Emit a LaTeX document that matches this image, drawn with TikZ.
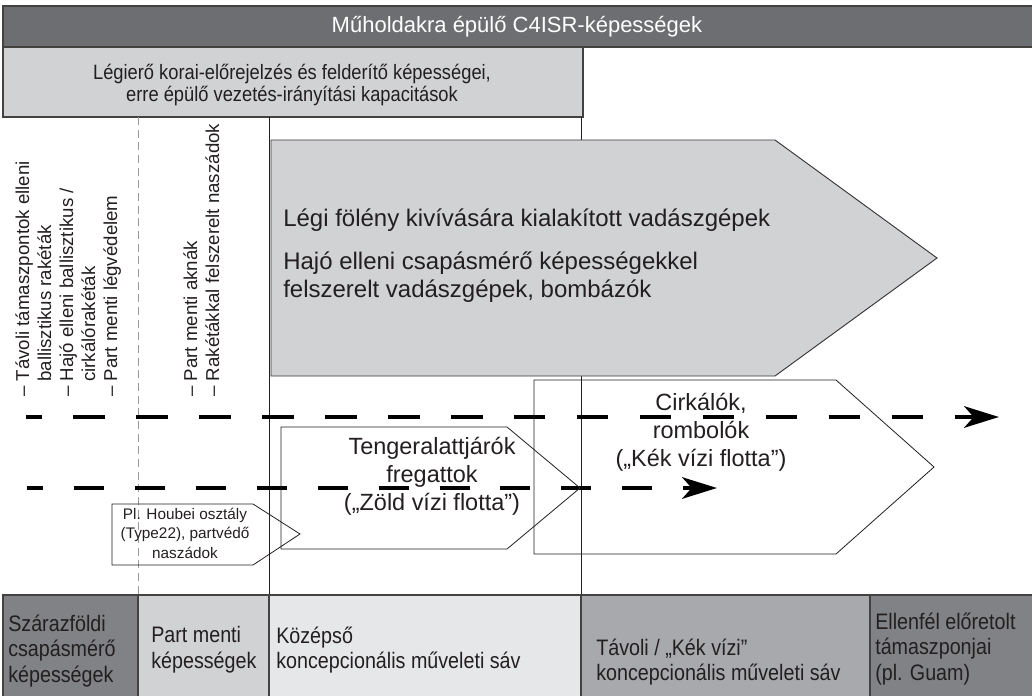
\documentclass[tikz,border=0pt]{standalone}
\usepackage{fontspec}
\setmainfont{Liberation Sans}
\newfontfamily\narrowfont[FakeStretch=0.88]{Liberation Sans}
\usetikzlibrary{arrows.meta}
\definecolor{bardark}{HTML}{6D6E71}
\definecolor{boxlight}{HTML}{D1D2D4}
\definecolor{boxpale}{HTML}{E6E7E8}
\definecolor{boxmid}{HTML}{A7A9AC}
\definecolor{boxdark}{HTML}{808285}
\definecolor{inkdark}{HTML}{231F20}

\begin{document}
\begin{tikzpicture}[x=0.75pt, y=-0.75pt, inner sep=0pt, text=inkdark,
    band/.style={draw=inkdark!85, line width=1.1pt},
    zone/.style={draw=inkdark, line width=0.7pt},
    fleetbox/.style={draw=inkdark, line width=0.6pt},
    listtxt/.style={rotate=90, anchor=base west, font=\fontsize{14}{16}\selectfont},
    lanetxt/.style={anchor=west, align=left, font=\narrowfont\fontsize{16.8}{19.2}\selectfont},
    fleettxt/.style={align=center, font=\fontsize{17.6}{21}\selectfont},
    route/.style={line width=3.7pt, -{Stealth[length=26pt, width=16pt, inset=7pt]}}]
    \useasboundingbox (0,0) rectangle (1032,696);

    % Satellite and air C4ISR bands
    \draw[band, fill=bardark] (3,6) rectangle (1033,47);
    \node[font=\fontsize{16.5}{19}\selectfont, text=white] (satbar) at (517,27)
        {Műholdakra épülő C4ISR-képességek};
    \draw[band, fill=boxlight] (3,47) rectangle (583,117);
    \node[align=center, font=\narrowfont\fontsize{15.6}{16.5}\selectfont] (awacs) at (292,85)
        {Légierő korai-előrejelzés és felderítő képességei,\\erre épülő vezetés-irányítási kapacitások};

    % Zone borders
    \draw[black!40, line width=0.6pt, dash pattern=on 6pt off 3.5pt] (138,117) -- (138,595);
    \draw[zone] (269,117) -- (269,595);
    \draw[zone] (581,117) -- (581,595);

    % Air power arrow
    \draw[draw=inkdark!90, line width=0.7pt, fill=boxlight]
        (271,140) -- (775,140) -- (937,258) -- (775,376) -- (271,376) -- cycle;
    \node[anchor=base west, font=\fontsize{18}{20.3}\selectfont] (airsup) at (283,226)
        {Légi fölény kivívására kialakított vadászgépek};
    \node[anchor=north west, align=left, font=\fontsize{18}{20.3}\selectfont] (airstrike) at (283,252)
        {Hajó elleni csapásmérő képességekkel\\felszerelt vadászgépek, bombázók};

    % Coastal weapons list
    \node[listtxt] (ls1) at (29,397) {– Távoli támaszpontok elleni};
    \node[listtxt] (ls2) at (51,382) {ballisztikus rakéták};
    \node[listtxt] (ls3) at (73,397) {– Hajó elleni ballisztikus /};
    \node[listtxt] (ls4) at (95,382) {cirkálórakéták};
    \node[listtxt] (ls5) at (117,397) {– Part menti légvédelem};
    \node[listtxt] (ls6) at (197,397) {– Part menti aknák};
    \node[listtxt] (ls7) at (219,397) {– Rakétákkal felszerelt naszádok};

    % Fleet reach lines
    \coordinate (farS) at (26,417);
    \coordinate (farE) at (999,417);
    \coordinate (nearS) at (27,488);
    \coordinate (nearE) at (717,488);
    \draw[route, dash pattern=on 23.6pt off 23.6pt, dash phase=11.6pt] (farS) -- (farE);
    \draw[route, dash pattern=on 22.5pt off 23.2pt, dash phase=10.5pt] (nearS) -- (nearE);

    % Fleets
    \draw[fleetbox] (534,380) -- (836,380) -- (934,467) -- (836,554) -- (534,554) -- cycle;
    \node[fleettxt] (bluewater) at (701,432)
        {Cirkálók,\\rombolók\\(„Kék vízi flotta”)};
    \draw[fleetbox] (281,427) -- (507,427) -- (580,488) -- (507,549) -- (281,549) -- cycle;
    \node[fleettxt] (greenwater) at (432,476)
        {Tengeralattjárók\\fregattok\\(„Zöld vízi flotta”)};
    \draw[fleetbox] (112,504) -- (253,504) -- (300,534) -- (253,565) -- (112,565) -- cycle;
    \node[align=center, font=\fontsize{11.5}{14.6}\selectfont] (houbei) at (185,533)
        {Pl. Houbei osztály\\(Type22), partvédő\\naszádok};

    % Operational zones
    \draw[band, fill=boxdark] (3,595) rectangle (138,698);
    \draw[band, fill=boxlight] (138,595) rectangle (269,698);
    \draw[band, fill=boxpale] (269,595) rectangle (581,698);
    \draw[band, fill=boxmid] (581,595) rectangle (870,698);
    \draw[band, fill=boxdark] (870,595) rectangle (1033,698);
    \node[lanetxt] (land) at (8,651) {Szárazföldi\\csapásmérő\\képességek};
    \node[lanetxt] (coast) at (151,650) {Part menti\\képességek};
    \node[lanetxt] (middle) at (276,650) {Középső\\koncepcionális műveleti sáv};
    \node[lanetxt] (far) at (596,662) {Távoli / „Kék vízi”\\koncepcionális műveleti sáv};
    \node[lanetxt] (enemy) at (875,649) {Ellenfél előretolt\\támaszponjai\\(pl. Guam)};
\end{tikzpicture}
\end{document}
